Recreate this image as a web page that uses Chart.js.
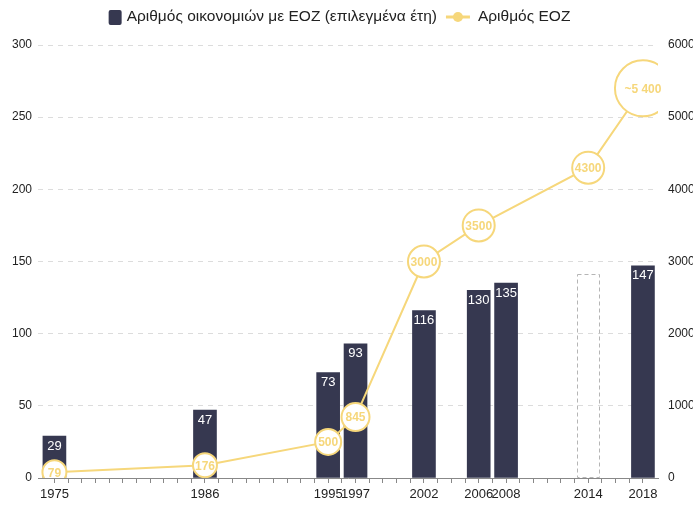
<!DOCTYPE html>
<html>
<head>
<meta charset="utf-8">
<script src="https://cdn.jsdelivr.net/npm/chart.js@4.4.1/dist/chart.umd.min.js"></script>
<style>
  html, body { margin: 0; padding: 0; background: #fff; overflow: hidden; }
  canvas { display: block; }
</style>
</head>
<body>
<canvas id="chart" width="693" height="508"></canvas>
<script>
// bars: number of economies with SEZ (selected years)
const barYears = [1975, 1986, 1995, 1997, 2002, 2006, 2008, 2014, 2018];
const economies = [29, 47, 73, 93, 116, 130, 135, 141, 147];
const estimatedYears = [2014]; // dashed outline, no label

// line: number of SEZ
const sezYears = [1975, 1986, 1995, 1997, 2002, 2006, 2014, 2018];
const sezCounts = [79, 176, 500, 845, 3000, 3500, 4300, 5400];
const sezLabels = ["79", "176", "500", "845", "3000", "3500", "4300", "~5 400"];

const labeledYears = [1975, 1986, 1995, 1997, 2002, 2006, 2008, 2014, 2018];

const legendTexts = ["Αριθμός οικονομιών με ΕΟΖ (επιλεγμένα έτη)", "Αριθμός ΕΟΖ"];

const NAVY = "#363850";
const YELLOW = "#f6d77b";
const FONT = "'Liberation Sans', Arial, sans-serif";

const labelPlugin = {
  id: "labels",
  afterDatasetsDraw(chart) {
    const ctx = chart.ctx;
    ctx.save();
    // bars: dashed estimate + value labels
    const barMeta = chart.getDatasetMeta(0);
    barMeta.data.forEach((el, i) => {
      const { x, y, base, width } = el.getProps(["x", "y", "base", "width"], true);
      if (estimatedYears.includes(barYears[i])) {
        ctx.setLineDash([4, 3]);
        ctx.strokeStyle = "#b5b5b5";
        ctx.lineWidth = 1;
        ctx.strokeRect(Math.round(x - width / 2) + 0.5, Math.round(y) + 0.5, Math.round(width) - 1, base - y);
        ctx.setLineDash([]);
        return;
      }
      ctx.fillStyle = "#fff";
      ctx.font = "13px " + FONT;
      ctx.textAlign = "center";
      ctx.textBaseline = "middle";
      ctx.fillText(String(economies[i]), x, y + 10);
    });
    // line point labels
    const lineMeta = chart.getDatasetMeta(1);
    lineMeta.data.forEach((el, i) => {
      ctx.fillStyle = YELLOW;
      ctx.font = "bold 12px " + FONT;
      ctx.textAlign = "center";
      ctx.textBaseline = "middle";
      ctx.fillText(sezLabels[i], el.x, el.y + 1);
    });
    ctx.restore();
  },
  afterDraw(chart) {
    // legend on top
    const ctx = chart.ctx;
    ctx.save();
    ctx.font = "15.5px " + FONT;
    ctx.textBaseline = "middle";
    const w0 = ctx.measureText(legendTexts[0]).width;
    const w1 = ctx.measureText(legendTexts[1]).width;
    const total = 13 + 5 + w0 + 9 + 24 + 8 + w1;
    let x = (chart.width - total) / 2 - 7;
    const cy = 17;
    ctx.fillStyle = NAVY;
    ctx.beginPath();
    ctx.roundRect(x, cy - 7, 13, 15, 2);
    ctx.fill();
    x += 18;
    ctx.fillStyle = "#222";
    ctx.fillText(legendTexts[0], x, cy);
    x += w0 + 9;
    ctx.strokeStyle = YELLOW;
    ctx.lineWidth = 3;
    ctx.beginPath();
    ctx.moveTo(x, cy);
    ctx.lineTo(x + 24, cy);
    ctx.stroke();
    ctx.fillStyle = YELLOW;
    ctx.beginPath();
    ctx.arc(x + 12, cy, 5, 0, Math.PI * 2);
    ctx.fill();
    x += 32;
    ctx.fillStyle = "#222";
    ctx.fillText(legendTexts[1], x, cy);
    ctx.restore();
  },
};

const ctx = document.getElementById("chart").getContext("2d");
new Chart(ctx, {
  data: {
    datasets: [
      {
        type: "bar",
        label: legendTexts[0],
        data: barYears.map((yr, i) => ({ x: yr, y: economies[i] })),
        backgroundColor: barYears.map((yr) => (estimatedYears.includes(yr) ? "rgba(0,0,0,0)" : NAVY)),
        borderWidth: 0,
        barThickness: 23,
        yAxisID: "y",
        order: 2,
      },
      {
        type: "line",
        label: legendTexts[1],
        data: sezYears.map((yr, i) => ({ x: yr, y: sezCounts[i] })),
        borderColor: YELLOW,
        borderWidth: 2,
        pointBackgroundColor: "#fff",
        pointBorderColor: YELLOW,
        pointBorderWidth: 2,
        pointRadius: [12, 12, 13, 14, 16, 16, 16, 28],
        tension: 0,
        yAxisID: "y2",
        order: 1,
      },
    ],
  },
  options: {
    responsive: false,
    animation: false,
    layout: { padding: { top: 45, bottom: 0, left: 0, right: 0 } },
    plugins: {
      legend: { display: false },
      tooltip: { enabled: false },
    },
    scales: {
      x: {
        type: "linear",
        offset: false,
        min: 1973.8,
        max: 2019.1,
        afterBuildTicks(scale) {
          const t = [];
          for (let yr = 1975; yr <= 2018; yr++) t.push({ value: yr });
          scale.ticks = t;
        },
        afterFit(scale) { scale.height = 27; },
        ticks: {
          autoSkip: false,
          maxRotation: 0,
          padding: 4,
          color: "#222",
          font: { family: FONT, size: 13 },
          callback: (v) => (labeledYears.includes(v) ? String(v) : ""),
        },
        grid: { drawOnChartArea: false, drawTicks: true, tickLength: 5, color: "#888", offset: false },
        border: { display: true, color: "#888", width: 1 },
      },
      y: {
        position: "left",
        min: 0,
        max: 300,
        afterFit(scale) { scale.width = 38; },
        ticks: {
          stepSize: 50,
          padding: 6,
          color: "#222",
          font: { family: FONT, size: 12 },
        },
        grid: { color: "#dcdcdc", drawTicks: false },
        border: { display: false, dash: [5, 5] },
      },
      y2: {
        position: "right",
        min: 0,
        max: 6000,
        afterFit(scale) { scale.width = 35; },
        ticks: {
          stepSize: 1000,
          padding: 2,
          color: "#222",
          font: { family: FONT, size: 12 },
          callback: (v) => String(v),
        },
        grid: { display: false },
        border: { display: false },
      },
    },
  },
  plugins: [labelPlugin],
});
</script>
</body>
</html>
